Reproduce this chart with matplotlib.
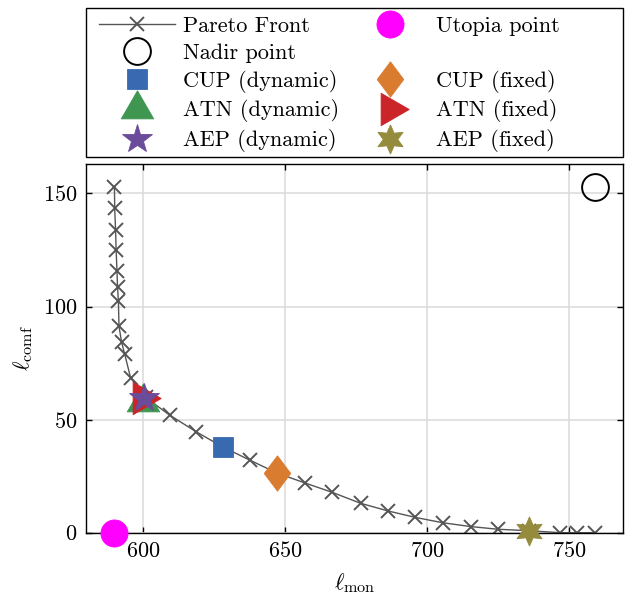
import matplotlib
matplotlib.use('Agg')
import matplotlib.pyplot as plt
from matplotlib.lines import Line2D
from matplotlib.patches import Rectangle

plt.rcParams.update({
    'font.family': 'serif',
    'font.serif': ['cmr10'],
    'mathtext.fontset': 'cm',
    'axes.formatter.use_mathtext': True,
    'font.size': 16,
})

# ---------------- data ----------------
pareto_mon = [590.0, 590.1, 590.4, 590.6, 590.9, 591.1, 591.4, 591.6, 592.5, 593.6,
              595.7, 601.0, 609.4, 618.8, 628.1, 637.6, 647.1, 657.0, 666.7, 676.6,
              686.3, 695.7, 705.5, 715.4, 725.1, 735.7, 746.8, 752.7, 759.2]
pareto_comf = [152.8, 143.4, 133.7, 124.9, 115.6, 108.5, 102.3, 91.3, 84.3, 79.0,
               68.4, 59.8, 52.0, 44.6, 37.9, 32.1, 26.4, 22.0, 17.8, 13.0,
               9.6, 6.8, 4.4, 2.7, 1.5, 0.9, 0.0, 0.0, 0.0]

utopia_mon, utopia_comf = 590.0, 0.0
nadir_mon, nadir_comf = 759.2, 152.8

method_labels = ['CUP (dynamic)', 'CUP (fixed)', 'ATN (dynamic)', 'ATN (fixed)',
                 'AEP (dynamic)', 'AEP (fixed)']
method_mon = [628.2, 647.2, 599.9, 599.8, 600.4, 735.7]
method_comf = [38.0, 26.2, 57.8, 59.4, 59.6, 0.9]

xticks = [600, 650, 700, 750]
yticks = [0, 50, 100, 150]

# ---------------- styles ----------------
tri_up = [(0, 1), (-0.866, -0.5), (0.866, -0.5), (0, 1)]
tri_right = [(1, 0), (-0.5, 0.866), (-0.5, -0.866), (1, 0)]
diamond = [(0, 1), (0.75, 0), (0, -1), (-0.75, 0), (0, 1)]
method_styles = [
    dict(marker='s', color='#396AB1', ms=14.7),
    dict(marker=diamond, color='#DA7C30', ms=25.5),
    dict(marker=tri_up, color='#3E9651', ms=27),
    dict(marker=tri_right, color='#CC2529', ms=27),
    dict(marker='*', color='#6B4C9A', ms=22),
    dict(marker=(6, 1, 0), color='#948B3D', ms=21),
]

fig = plt.figure(figsize=(6.32, 6.0), dpi=100)
ax = fig.add_axes([86 / 632, 67.3 / 600, (623.3 - 86) / 632, (532.7 - 164) / 600])

ax.grid(True, color='#dddddd', lw=1.2)
ax.set_axisbelow(True)

pareto_line, = ax.plot(pareto_mon, pareto_comf, color='#555555', lw=1.0,
                       marker='x', ms=9.5, mew=1.4, zorder=2, label='Pareto Front')
utopia_h, = ax.plot([utopia_mon], [utopia_comf], linestyle='none', marker='o',
                    ms=19.5, color='#FF00FF', mew=0.6, zorder=4, clip_on=False,
                    label='Utopia point')
nadir_h, = ax.plot([nadir_mon], [nadir_comf], linestyle='none', marker='o',
                   ms=19.3, mfc='none', mec='black', mew=1.4, zorder=4,
                   clip_on=False, label='Nadir point')

method_handles = []
for lab, xm, ym, st in zip(method_labels, method_mon, method_comf, method_styles):
    h, = ax.plot([xm], [ym], linestyle='none', marker=st['marker'], ms=st['ms'],
                 color=st['color'], mec=st['color'], mew=0.6, zorder=3,
                 clip_on=False, label=lab)
    method_handles.append(h)

ax.set_xlim(580, 769)
ax.set_ylim(0, 163)
ax.set_xticks(xticks)
ax.set_yticks(yticks)
ax.tick_params(direction='in', top=True, right=True, length=4.5, width=1.0,
               labelsize=16, pad=6)
for sp in ax.spines.values():
    sp.set_linewidth(1.0)

ax.set_xlabel(r'$\ell_{\rm mon}$', fontsize=16.5, labelpad=7)
ax.set_ylabel(r'$\ell_{\rm comf}$', fontsize=16.5, labelpad=6)

blank = Line2D([], [], linestyle='none', marker='none')
handles = [pareto_line, nadir_h, method_handles[0], method_handles[2], method_handles[4],
           utopia_h, blank, method_handles[1], method_handles[3], method_handles[5]]
labels = ['Pareto Front', 'Nadir point', method_labels[0], method_labels[2], method_labels[4],
          'Utopia point', '', method_labels[1], method_labels[3], method_labels[5]]

fig.legend(handles, labels, ncol=2, frameon=False, loc='center left',
           bbox_to_anchor=(98.8 / 632, 1 - 84.5 / 600), bbox_transform=fig.transFigure,
           borderpad=0, borderaxespad=0, handlelength=3.43, handletextpad=0.36,
           columnspacing=0.57, labelspacing=0.31, fontsize=16)

fig.add_artist(Rectangle((86 / 632, (600 - 157) / 600), (623.3 - 86) / 632,
                         (157 - 7.6) / 600, transform=fig.transFigure,
                         fill=False, edgecolor='black', lw=1.0))

fig.savefig('out.png', dpi=100)
